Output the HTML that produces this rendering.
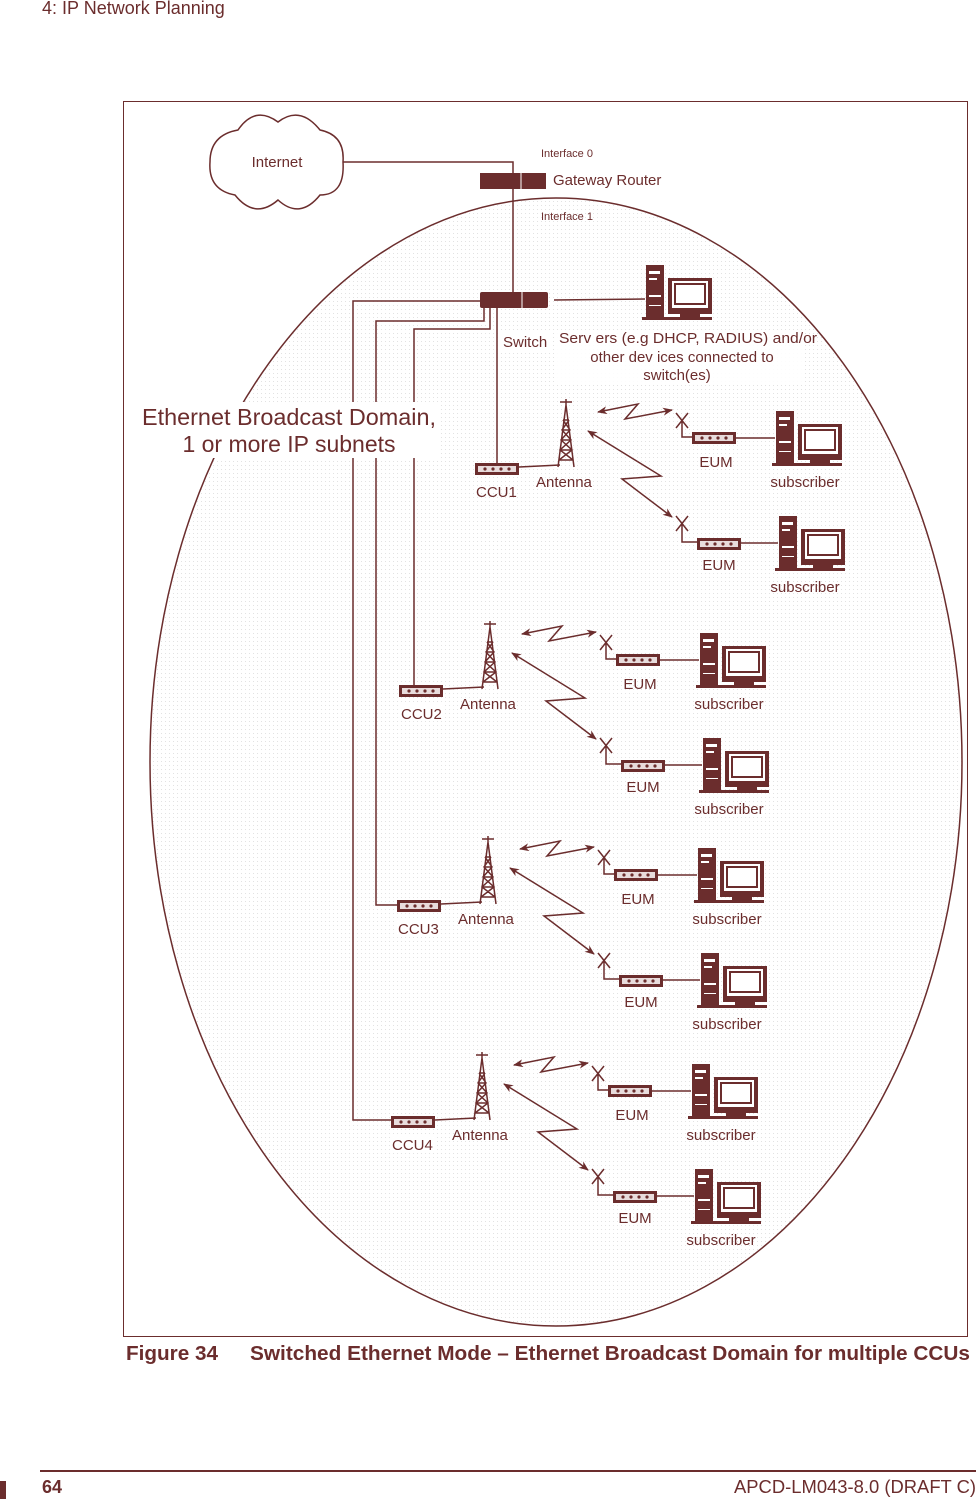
<!DOCTYPE html>
<html><head><meta charset="utf-8"><style>
html,body{margin:0;padding:0;background:#fff}
svg{display:block}
text{font-family:"Liberation Sans",sans-serif;fill:#6b2d2d}
</style></head><body>
<svg width="980" height="1499" viewBox="0 0 980 1499" xmlns="http://www.w3.org/2000/svg">
<defs>
<pattern id="dots" width="4" height="4" patternUnits="userSpaceOnUse"><rect width="4" height="4" fill="#fff"/><rect x="1" y="1" width="1" height="1" fill="#e2e2e2"/></pattern>
<marker id="ah" markerWidth="10" markerHeight="8" refX="9" refY="4" orient="auto-start-reverse" markerUnits="userSpaceOnUse"><path d="M0,0 L10,4 L0,8 L3,4 Z" fill="#6b2d2d"/></marker>
<g id="box">
<rect x="0" y="0" width="44" height="12" fill="#6b2d2d"/>
<rect x="3" y="3" width="38" height="6" fill="#e8dcdc"/>
<circle cx="10" cy="6" r="1.6" fill="#6b2d2d"/><circle cx="18" cy="6" r="1.6" fill="#6b2d2d"/><circle cx="26" cy="6" r="1.6" fill="#6b2d2d"/><circle cx="34" cy="6" r="1.6" fill="#6b2d2d"/>
</g>
<g id="pc">
<rect x="0" y="0" width="18" height="52" fill="#6b2d2d"/>
<rect x="3" y="6" width="11" height="3" fill="#fff"/><rect x="3" y="13" width="8" height="2" fill="#fff"/><rect x="3" y="30" width="12" height="2" fill="#fff"/><rect x="3" y="40" width="12" height="1" fill="#fff"/>
<rect x="22" y="13" width="44" height="36" fill="#6b2d2d"/>
<rect x="26" y="16" width="36" height="27" fill="#fff"/>
<rect x="29" y="19" width="30" height="20" fill="none" stroke="#6b2d2d" stroke-width="2"/>
<rect x="34" y="49" width="20" height="3" fill="#6b2d2d"/>
<rect x="-4" y="52" width="70" height="3" fill="#6b2d2d"/>
</g>
<g id="ant" stroke="#6b2d2d" fill="none" stroke-width="1.5">
<path d="M0,0 L-8,62 M0,0 L8,62 M-3,15 L3,15 M-4,25 L4,25 M-5,35 L5,35 M-6,45 L6,45 M-7,55 L7,55 M-3,15 L4,25 L-5,35 L6,45 L-7,55 M3,15 L-4,25 L5,35 L-6,45 L7,55 M0,0 L0,-6 M-6,-3 L6,-3"/>
</g>
<g id="grp">
<use href="#box" x="475" y="463"/>
<line x1="519" y1="467" x2="560" y2="465" stroke="#6b2d2d" stroke-width="1.5"/>
<use href="#ant" x="566" y="405"/>
<text x="536" y="487" font-size="15">Antenna</text>
<text x="476" y="497" font-size="15">CCU1</text>
<polyline points="598,412 638,404 625,419 672,410" fill="none" stroke="#6b2d2d" stroke-width="1.5" marker-start="url(#ah)" marker-end="url(#ah)"/>
<polyline points="588,431 661,476 622,479 672,517" fill="none" stroke="#6b2d2d" stroke-width="1.5" marker-start="url(#ah)" marker-end="url(#ah)"/>
<path d="M676,413 L688,428 M688,413 L676,428 M682,420 L682,437 L692,437" stroke="#6b2d2d" fill="none" stroke-width="1.5"/>
<use href="#box" x="692" y="432"/>
<line x1="736" y1="438" x2="775" y2="438" stroke="#6b2d2d" stroke-width="1.5"/>
<use href="#pc" x="776" y="411"/>
<text x="716" y="467" font-size="15" text-anchor="middle">EUM</text>
<text x="805" y="487" font-size="15" text-anchor="middle">subscriber</text>
<path d="M676,516 L688,531 M688,516 L676,531 M682,523 L682,542 L697,542" stroke="#6b2d2d" fill="none" stroke-width="1.5"/>
<use href="#box" x="697" y="538"/>
<line x1="741" y1="543" x2="778" y2="543" stroke="#6b2d2d" stroke-width="1.5"/>
<use href="#pc" x="779" y="516"/>
<text x="719" y="570" font-size="15" text-anchor="middle">EUM</text>
<text x="805" y="592" font-size="15" text-anchor="middle">subscriber</text>
</g>
</defs>

<text x="42" y="14" font-size="18">4: IP Network Planning</text>
<rect x="123.5" y="101.5" width="844" height="1235" fill="#fff" stroke="#6b2d2d" stroke-width="1"/>
<ellipse cx="556" cy="762" rx="406" ry="564" fill="url(#dots)" stroke="#6b2d2d" stroke-width="1.5"/>

<path d="M238,130 Q255,105 278,122 Q300,105 320,130 Q345,135 343,162 Q345,195 320,195 Q300,220 278,200 Q255,220 235,195 Q208,190 210,162 Q210,135 238,130 Z" fill="#fff" stroke="#6b2d2d" stroke-width="1.5"/>
<text x="277" y="167" font-size="15" text-anchor="middle">Internet</text>
<polyline points="343,162 513,162 513,292" fill="none" stroke="#6b2d2d" stroke-width="1.5"/>
<rect x="480" y="173" width="66" height="16" fill="#6b2d2d"/><line x1="521" y1="173" x2="521" y2="189" stroke="#fff"/>
<text x="541" y="157" font-size="11">Interface 0</text>
<text x="541" y="220" font-size="11">Interface 1</text>
<text x="553" y="185" font-size="15">Gateway  Router</text>

<rect x="480" y="292" width="68" height="16" fill="#6b2d2d" rx="2"/><line x1="522" y1="292" x2="522" y2="308" stroke="#fff"/>
<line x1="554" y1="300" x2="645" y2="299" stroke="#6b2d2d" stroke-width="1.5"/>
<g stroke="#6b2d2d" stroke-width="1.5" fill="none">
<polyline points="480,301 353,301 353,1120 391,1120"/>
<polyline points="484,308 484,321 376,321 376,905 398,905"/>
<polyline points="490,308 490,329 414,329 414,688 400,688"/>
<line x1="497" y1="308" x2="497" y2="465"/>
</g>
<use href="#pc" x="646" y="265"/>
<rect x="500" y="332" width="50" height="18" fill="#fff"/>
<text x="503" y="347" font-size="15">Switch</text>
<rect x="556" y="330" width="246" height="54" fill="#fff" opacity="0.9"/>
<text x="688" y="343" font-size="15" text-anchor="middle" textLength="258" lengthAdjust="spacingAndGlyphs">Serv ers (e.g DHCP, RADIUS) and/or</text>
<text x="682" y="362" font-size="15" text-anchor="middle">other dev ices connected  to</text>
<text x="677" y="380" font-size="15" text-anchor="middle">switch(es)</text>

<rect x="140" y="402" width="298" height="56" fill="#fff"/>
<text x="289" y="425" font-size="23" text-anchor="middle" textLength="294" lengthAdjust="spacingAndGlyphs">Ethernet Broadcast Domain,</text>
<text x="289" y="452" font-size="23" text-anchor="middle">1 or more IP subnets</text>

<use href="#grp"/>
<g transform="translate(-76,222)"><use href="#grp"/></g>
<g transform="translate(-78,437)"><use href="#grp"/></g>
<g transform="translate(-84,653)"><use href="#grp"/></g>
<rect x="399" y="704" width="44" height="17" fill="#fff"/><text x="401" y="719" font-size="15">CCU2</text>
<rect x="396" y="919" width="44" height="17" fill="#fff"/><text x="398" y="934" font-size="15">CCU3</text>
<rect x="390" y="1135" width="44" height="17" fill="#fff"/><text x="392" y="1150" font-size="15">CCU4</text>

<text x="126" y="1360" font-size="20" font-weight="bold" textLength="92" lengthAdjust="spacingAndGlyphs">Figure 34</text>
<text x="250" y="1360" font-size="20" font-weight="bold" textLength="720" lengthAdjust="spacingAndGlyphs">Switched Ethernet Mode – Ethernet Broadcast Domain for multiple CCUs</text>
<line x1="40" y1="1471" x2="976" y2="1471" stroke="#6b2d2d" stroke-width="2"/>
<rect x="0" y="1481" width="6" height="18" fill="#6b2d2d"/>
<text x="42" y="1493" font-size="18" font-weight="bold">64</text>
<text x="976" y="1493" font-size="18" text-anchor="end" textLength="242" lengthAdjust="spacingAndGlyphs">APCD-LM043-8.0 (DRAFT C)</text>
</svg>
</body></html>
